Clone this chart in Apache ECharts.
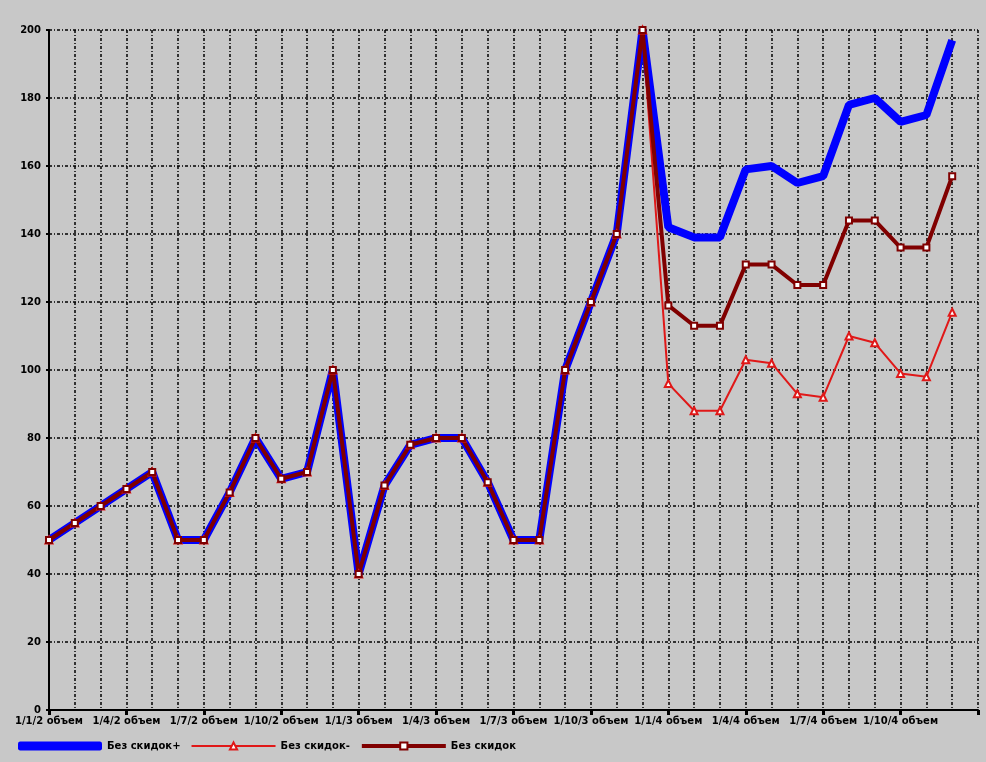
<!DOCTYPE html>
<html>
<head>
<meta charset="utf-8">
<title>Без скидок</title>
<script src="https://cdn.jsdelivr.net/npm/echarts@6/dist/echarts.min.js"></script>
<style>
  html, body { margin: 0; padding: 0; background: #c8c8c8; }
  #chart { width: 986px; height: 762px; }
</style>
</head>
<body>
<div id="chart"></div>
<script>
// monthly categories, only every 3rd gets a label; last slot is empty (right edge of plot)
const categories = [
  '1/1/2 объем', '1/2/2 объем', '1/3/2 объем', '1/4/2 объем', '1/5/2 объем', '1/6/2 объем',
  '1/7/2 объем', '1/8/2 объем', '1/9/2 объем', '1/10/2 объем', '1/11/2 объем', '1/12/2 объем',
  '1/1/3 объем', '1/2/3 объем', '1/3/3 объем', '1/4/3 объем', '1/5/3 объем', '1/6/3 объем',
  '1/7/3 объем', '1/8/3 объем', '1/9/3 объем', '1/10/3 объем', '1/11/3 объем', '1/12/3 объем',
  '1/1/4 объем', '1/2/4 объем', '1/3/4 объем', '1/4/4 объем', '1/5/4 объем', '1/6/4 объем',
  '1/7/4 объем', '1/8/4 объем', '1/9/4 объем', '1/10/4 объем', '1/11/4 объем', '1/12/4 объем',
  ''
];

const withDiscountPlus = [
  50, 55, 60, 65, 70, 50, 50, 64, 80, 68, 70, 100,
  40, 66, 78, 80, 80, 67, 50, 50, 100, 120, 140, 200,
  142, 139, 139, 159, 160, 155, 157, 178, 180, 173, 175, 197
];
const withDiscountMinus = [
  50, 55, 60, 65, 70, 50, 50, 64, 80, 68, 70, 100,
  40, 66, 78, 80, 80, 67, 50, 50, 100, 120, 140, 200,
  96, 88, 88, 103, 102, 93, 92, 110, 108, 99, 98, 117
];
const noDiscount = [
  50, 55, 60, 65, 70, 50, 50, 64, 80, 68, 70, 100,
  40, 66, 78, 80, 80, 67, 50, 50, 100, 120, 140, 200,
  119, 113, 113, 131, 131, 125, 125, 144, 144, 136, 136, 157
];

const yTicks = { min: 0, max: 200, step: 20 };

const seriesNames = ['Без скидок+', 'Без скидок-', 'Без скидок'];

const chart = echarts.init(document.getElementById('chart'));

const font = 'DejaVu Sans';
const gridDash = [3, 2, 1, 2];

const option = {
  animation: false,
  backgroundColor: '#c8c8c8',
  grid: {
    left: 49,
    right: 8,
    top: 30,
    bottom: 52
  },
  legend: {
    data: [
      { name: seriesNames[0], icon: 'roundRect' },
      { name: seriesNames[1], lineStyle: { width: 2 } },
      { name: seriesNames[2], lineStyle: { width: 4 } }
    ],
    left: 18,
    top: 741,
    padding: 0,
    itemWidth: 84,
    itemHeight: 9,
    itemGap: 10,
    textStyle: {
      fontFamily: font,
      fontSize: 10,
      fontWeight: 'bold',
      color: '#000'
    }
  },
  xAxis: {
    type: 'category',
    boundaryGap: false,
    data: categories,
    axisLine: { lineStyle: { color: '#000', width: 2 } },
    axisTick: {
      interval: 2,
      length: 5,
      lineStyle: { color: '#000', width: 3 }
    },
    axisLabel: {
      interval: 2,
      margin: 6,
      fontFamily: font,
      fontSize: 10,
      fontWeight: 'bold',
      color: '#000'
    },
    splitLine: {
      show: true,
      interval: 0,
      lineStyle: { color: '#000', width: 1.5, type: gridDash }
    }
  },
  yAxis: {
    type: 'value',
    min: yTicks.min,
    max: yTicks.max,
    interval: yTicks.step,
    axisLine: { show: true, lineStyle: { color: '#000', width: 2 } },
    axisTick: { show: true, length: 3, lineStyle: { color: '#000', width: 2 } },
    axisLabel: {
      margin: 8,
      fontFamily: font,
      fontSize: 10,
      fontWeight: 'bold',
      color: '#000'
    },
    splitLine: {
      show: true,
      lineStyle: { color: '#000', width: 1.5, type: gridDash }
    }
  },
  series: [
    {
      name: seriesNames[0],
      type: 'line',
      data: withDiscountPlus,
      symbol: 'none',
      lineStyle: { color: '#0000ff', width: 8 },
      itemStyle: { color: '#0000ff' }
    },
    {
      name: seriesNames[1],
      type: 'line',
      data: withDiscountMinus,
      symbol: 'emptyTriangle',
      symbolSize: 7,
      lineStyle: { color: '#e01818', width: 2 },
      itemStyle: { color: '#e01818', borderColor: '#e01818', borderWidth: 1 }
    },
    {
      name: seriesNames[2],
      type: 'line',
      data: noDiscount,
      symbol: 'emptyRect',
      symbolSize: 6,
      lineStyle: { color: '#800000', width: 4 },
      itemStyle: { color: '#800000', borderColor: '#d83030', borderWidth: 1 }
    }
  ]
};

chart.setOption(option);

window.addEventListener('resize', () => chart.resize());
</script>
</body>
</html>
